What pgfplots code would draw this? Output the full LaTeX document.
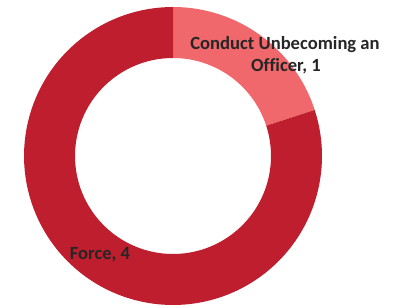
\documentclass[border=0pt]{standalone}
\usepackage{pgfplots}
\pgfplotsset{compat=1.18}
\usepackage{fontspec}
\setmainfont{Carlito}[Ligatures=NoCommon]
\definecolor{darkred}{HTML}{BE1E2D}
\definecolor{lightred}{HTML}{F0686B}
\definecolor{txt}{HTML}{262626}
% #1 = cumulative value before slice, #2 = slice value, #3 = colour (total = 5)
\newcommand{\ringslice}[3]{%
  \addplot[fill=#3, draw=none, domain=0:3, samples=361, variable=\t]
  ({173 + ifthenelse(\t<1, 149, ifthenelse(\t<2, 149-51*(\t-1), 98))
        * cos(ifthenelse(\t<2, 90-72*#1-72*#2*min(\t,1), 90-72*#1-72*#2+72*#2*(\t-2)))},
   {151 + ifthenelse(\t<1, 149, ifthenelse(\t<2, 149-51*(\t-1), 98))
        * sin(ifthenelse(\t<2, 90-72*#1-72*#2*min(\t,1), 90-72*#1-72*#2+72*#2*(\t-2)))});
}
\begin{document}
\begin{tikzpicture}
\begin{axis}[
  width=403pt, height=307pt, scale only axis,
  xmin=0, xmax=403, ymin=0, ymax=307,
  hide axis, clip=false,
]
\path (axis cs:0,0) rectangle (axis cs:403,307);
\ringslice{0}{1}{lightred}
\ringslice{1}{4}{darkred}
\node[anchor=base, text=txt, font=\fontsize{18.6}{22}\selectfont\bfseries] at (axis cs:285,257) {Conduct Unbecoming an};
\node[anchor=base, text=txt, font=\fontsize{18.6}{22}\selectfont\bfseries] at (axis cs:286,235.3) {Officer, 1};
\node[anchor=base, text=txt, font=\fontsize{18.6}{22}\selectfont\bfseries] at (axis cs:100,47.7) {Force, 4};
\end{axis}
\end{tikzpicture}
\end{document}
